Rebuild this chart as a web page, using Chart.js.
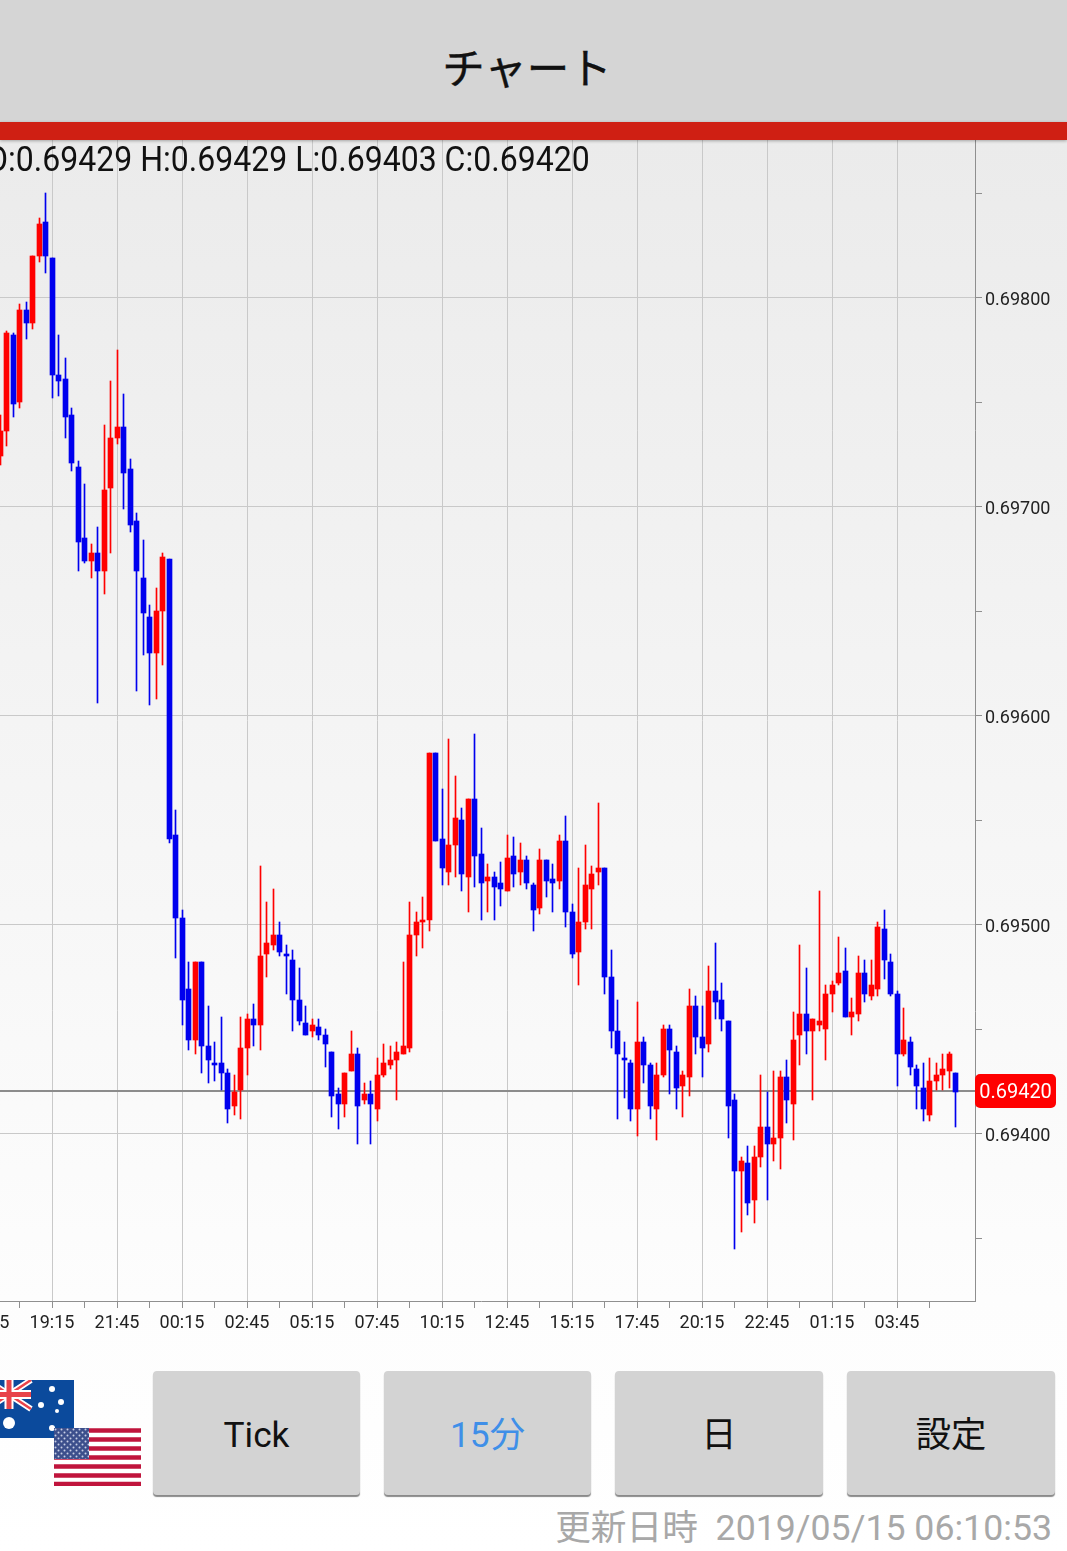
<!DOCTYPE html>
<html lang="ja">
<head>
<meta charset="utf-8">
<title>チャート</title>
<script src="https://cdn.jsdelivr.net/npm/chart.js@4/dist/chart.umd.min.js"></script>
<style>
    html, body { margin: 0; padding: 0; }
    body {
        position: relative;
        width: 1067px;
        height: 1551px;
        overflow: hidden;
        font-family: Roboto, 'Noto Sans CJK JP', sans-serif;
        background: linear-gradient(to bottom, #ebebeb 140px, #fdfdfd 1300px, #ffffff 1551px);
    }
    #chart { position: absolute; left: -20px; top: 0; }
    #header {
        position: absolute; left: 0; top: 0; width: 1067px; height: 122px;
        background: #d5d5d5; text-align: center; color: #111;
        font: 42.5px 'Noto Sans CJK JP', sans-serif; line-height: 132px; text-indent: -13px;
        -webkit-text-stroke: 0.4px #111;
    }
    #redbar {
        position: absolute; left: 0; top: 122px; width: 1067px; height: 18px;
        background: #cf1f13; box-shadow: 0 1px 3px rgba(0,0,0,0.3);
    }
    #ohlc {
        position: absolute; right: 477px; top: 140px; white-space: nowrap;
        font-size: 35px; line-height: 40px; color: #111;
        transform: scaleX(0.915); transform-origin: right center;
    }
    .btn {
        position: absolute; top: 1371px; height: 124px; background: #d3d3d3;
        border-radius: 4px; box-shadow: 0 2px 1px #8a8a8a;
        text-align: center; font-size: 35.3px; line-height: 129px; color: #111;
    }
    #updated {
        position: absolute; right: 15px; top: 1504px; white-space: pre;
        font-size: 35.7px; line-height: 48px; color: #a8a8a8;
    }
    .flag { position: absolute; }
</style>
</head>
<body>
<canvas id="chart" width="1087" height="1345"></canvas>
<div id="header">チャート</div>
<div id="redbar"></div>
<div id="ohlc">O:0.69429 H:0.69429 L:0.69403 C:0.69420</div>

<svg class="flag" style="left:-13px;top:1380px" width="87" height="58" viewBox="0 0 87 58">
    <rect width="87" height="58" fill="#0b4a9c"/>
    <path d="M0 0L44 29M44 0L0 29" stroke="#fff" stroke-width="6"/>
    <path d="M0 0L44 29M44 0L0 29" stroke="#e8434a" stroke-width="2.5"/>
    <path d="M22 0V29M0 14.5H44" stroke="#fff" stroke-width="9"/>
    <path d="M22 0V29M0 14.5H44" stroke="#e8434a" stroke-width="5"/>
    <g fill="#fff">
        <circle cx="22" cy="43" r="6"/>
        <circle cx="65" cy="9" r="3"/>
        <circle cx="54" cy="25" r="3"/>
        <circle cx="74" cy="22" r="3"/>
        <circle cx="70" cy="31" r="2"/>
        <circle cx="65" cy="48" r="3"/>
    </g>
</svg>
<svg class="flag" style="left:54px;top:1428px" width="87" height="58" viewBox="0 0 87 58">
    <defs>
        <pattern id="stars" width="6" height="6" patternUnits="userSpaceOnUse">
            <circle cx="1.5" cy="1.5" r="1" fill="#c8cfe6"/>
            <circle cx="4.5" cy="4.5" r="1" fill="#c8cfe6"/>
        </pattern>
    </defs>
    <rect width="87" height="58" fill="#fff"/>
    <path d="M0 2.5H87M0 11.5H87M0 20.5H87M0 29.5H87M0 38.5H87M0 47.5H87M0 56H87" stroke="#c0143c" stroke-width="4.5"/>
    <rect width="35" height="31" fill="#3c4f8c"/>
    <rect width="35" height="31" fill="url(#stars)"/>
</svg>

<div class="btn" style="left:153px;width:207px">Tick</div>
<div class="btn" style="left:384px;width:207px;color:#3f8fe8">15分</div>
<div class="btn" style="left:615px;width:208px">日</div>
<div class="btn" style="left:847px;width:208px">設定</div>
<div id="updated">更新日時  2019/05/15 06:10:53</div>

<script>
// 15分足 AUD/USD
const timeLabels = [
    '16:45','17:00','17:15','17:30','17:45','18:00','18:15','18:30','18:45','19:00',
    '19:15','19:30','19:45','20:00','20:15','20:30','20:45','21:00','21:15','21:30',
    '21:45','22:00','22:15','22:30','22:45','23:00','23:15','23:30','23:45','00:00',
    '00:15','00:30','00:45','01:00','01:15','01:30','01:45','02:00','02:15','02:30',
    '02:45','03:00','03:15','03:30','03:45','04:00','04:15','04:30','04:45','05:00',
    '05:15','05:30','05:45','06:00','06:15','06:30','06:45','07:00','07:15','07:30',
    '07:45','08:00','08:15','08:30','08:45','09:00','09:15','09:30','09:45','10:00',
    '10:15','10:30','10:45','11:00','11:15','11:30','11:45','12:00','12:15','12:30',
    '12:45','13:00','13:15','13:30','13:45','14:00','14:15','14:30','14:45','15:00',
    '15:15','15:30','15:45','16:00','16:15','16:30','16:45','17:00','17:15','17:30',
    '17:45','18:00','18:15','18:30','18:45','19:00','19:15','19:30','19:45','20:00',
    '20:15','20:30','20:45','21:00','21:15','21:30','21:45','22:00','22:15','22:30',
    '22:45','23:00','23:15','23:30','23:45','00:00','00:15','00:30','00:45','01:00',
    '01:15','01:30','01:45','02:00','02:15','02:30','02:45','03:00','03:15','03:30',
    '03:45','04:00','04:15','04:30','04:45','05:00','05:15','05:30','05:45','06:00',
    '06:15','06:30','06:45'
];

// 左端の2本は画面外なので null
const opens = [null, null,
    0.69724,0.69736,0.69782,0.69750,0.69794,0.69788,0.69820,0.69836,0.69819,0.69763,
    0.69761,0.69744,0.69719,0.69685,0.69674,0.69678,0.69669,0.69709,0.69733,0.69738,
    0.69718,0.69693,0.69666,0.69647,0.69630,0.69650,0.69675,0.69543,0.69503,0.69469,
    0.69445,0.69482,0.69442,0.69434,0.69434,0.69429,0.69413,0.69421,0.69441,0.69455,
    0.69452,0.69486,0.69490,0.69495,0.69486,0.69483,0.69464,0.69453,0.69449,0.69451,
    0.69447,0.69439,0.69419,0.69414,0.69430,0.69438,0.69416,0.69419,0.69412,0.69428,
    0.69433,0.69435,0.69438,0.69441,0.69495,0.69501,0.69502,0.69582,0.69541,0.69525,
    0.69538,0.69550,0.69523,0.69560,0.69534,0.69521,0.69523,0.69520,0.69516,0.69533,
    0.69525,0.69531,0.69519,0.69508,0.69531,0.69522,0.69521,0.69540,0.69506,0.69487,
    0.69501,0.69517,0.69525,0.69527,0.69475,0.69449,0.69436,0.69434,0.69412,0.69444,
    0.69433,0.69412,0.69428,0.69450,0.69439,0.69423,0.69427,0.69461,0.69446,0.69443,
    0.69468,0.69464,0.69454,0.69416,0.69382,0.69386,0.69368,0.69389,0.69403,0.69395,
    0.69398,0.69427,0.69414,0.69447,0.69457,0.69449,0.69452,0.69450,0.69467,0.69472,
    0.69478,0.69456,0.69457,0.69477,0.69466,0.69469,0.69498,0.69482,0.69467,0.69438,
    0.69444,0.69431,0.69422,0.69409,0.69425,0.69428,0.69430,0.69429
];
const highs = [null, null,
    0.69744,0.69784,0.69783,0.69797,0.69798,0.69820,0.69838,0.69850,0.69819,0.69782,
    0.69771,0.69747,0.69722,0.69711,0.69682,0.69690,0.69739,0.69760,0.69775,0.69754,
    0.69723,0.69697,0.69684,0.69653,0.69661,0.69678,0.69675,0.69555,0.69507,0.69482,
    0.69482,0.69482,0.69461,0.69444,0.69456,0.69431,0.69428,0.69456,0.69457,0.69462,
    0.69528,0.69511,0.69517,0.69501,0.69490,0.69488,0.69479,0.69461,0.69455,0.69455,
    0.69450,0.69439,0.69422,0.69429,0.69449,0.69441,0.69424,0.69425,0.69436,0.69443,
    0.69442,0.69444,0.69482,0.69511,0.69506,0.69513,0.69582,0.69582,0.69565,0.69589,
    0.69571,0.69556,0.69560,0.69591,0.69546,0.69529,0.69525,0.69530,0.69543,0.69542,
    0.69539,0.69533,0.69520,0.69536,0.69531,0.69529,0.69543,0.69552,0.69510,0.69527,
    0.69538,0.69528,0.69558,0.69527,0.69488,0.69464,0.69444,0.69435,0.69463,0.69446,
    0.69434,0.69434,0.69452,0.69452,0.69442,0.69430,0.69469,0.69466,0.69461,0.69480,
    0.69491,0.69472,0.69454,0.69419,0.69389,0.69394,0.69394,0.69428,0.69420,0.69430,
    0.69430,0.69435,0.69458,0.69490,0.69479,0.69455,0.69516,0.69471,0.69473,0.69494,
    0.69489,0.69465,0.69485,0.69483,0.69483,0.69501,0.69507,0.69486,0.69468,0.69460,
    0.69446,0.69433,0.69434,0.69436,0.69434,0.69438,0.69439,0.69429
];
const lows = [null, null,
    0.69720,0.69729,0.69743,0.69747,0.69780,0.69785,0.69817,0.69812,0.69752,0.69753,
    0.69733,0.69717,0.69669,0.69673,0.69666,0.69606,0.69658,0.69678,0.69730,0.69699,
    0.69688,0.69612,0.69629,0.69605,0.69608,0.69624,0.69539,0.69484,0.69452,0.69440,
    0.69438,0.69429,0.69424,0.69425,0.69421,0.69405,0.69409,0.69407,0.69428,0.69442,
    0.69440,0.69475,0.69488,0.69485,0.69467,0.69449,0.69452,0.69447,0.69446,0.69445,
    0.69432,0.69408,0.69402,0.69408,0.69430,0.69395,0.69414,0.69395,0.69406,0.69427,
    0.69431,0.69416,0.69438,0.69439,0.69485,0.69489,0.69497,0.69540,0.69519,0.69519,
    0.69523,0.69516,0.69506,0.69518,0.69502,0.69506,0.69502,0.69509,0.69516,0.69518,
    0.69519,0.69517,0.69497,0.69505,0.69513,0.69506,0.69517,0.69499,0.69484,0.69471,
    0.69498,0.69498,0.69519,0.69467,0.69441,0.69407,0.69417,0.69406,0.69399,0.69424,
    0.69407,0.69397,0.69427,0.69419,0.69412,0.69408,0.69418,0.69438,0.69427,0.69439,
    0.69455,0.69449,0.69398,0.69345,0.69353,0.69361,0.69357,0.69384,0.69368,0.69387,
    0.69383,0.69405,0.69397,0.69433,0.69438,0.69416,0.69449,0.69435,0.69458,0.69471,
    0.69456,0.69447,0.69454,0.69463,0.69464,0.69466,0.69474,0.69466,0.69423,0.69437,
    0.69428,0.69412,0.69406,0.69406,0.69421,0.69421,0.69422,0.69403
];
const closes = [null, null,
    0.69736,0.69783,0.69749,0.69794,0.69788,0.69820,0.69835,0.69820,0.69763,0.69760,
    0.69743,0.69721,0.69683,0.69674,0.69678,0.69669,0.69708,0.69733,0.69738,0.69716,
    0.69691,0.69669,0.69649,0.69630,0.69650,0.69676,0.69541,0.69503,0.69464,0.69445,
    0.69482,0.69442,0.69435,0.69433,0.69429,0.69412,0.69420,0.69441,0.69455,0.69452,
    0.69485,0.69491,0.69495,0.69487,0.69485,0.69464,0.69454,0.69447,0.69452,0.69447,
    0.69443,0.69418,0.69414,0.69429,0.69438,0.69413,0.69419,0.69414,0.69428,0.69434,
    0.69435,0.69439,0.69442,0.69495,0.69501,0.69502,0.69582,0.69540,0.69527,0.69538,
    0.69551,0.69524,0.69560,0.69533,0.69520,0.69523,0.69518,0.69517,0.69532,0.69524,
    0.69531,0.69520,0.69507,0.69531,0.69521,0.69520,0.69540,0.69506,0.69486,0.69501,
    0.69519,0.69524,0.69527,0.69475,0.69449,0.69438,0.69435,0.69412,0.69444,0.69433,
    0.69413,0.69428,0.69450,0.69440,0.69422,0.69428,0.69461,0.69446,0.69441,0.69468,
    0.69463,0.69455,0.69413,0.69382,0.69387,0.69367,0.69389,0.69403,0.69395,0.69398,
    0.69427,0.69416,0.69445,0.69457,0.69449,0.69455,0.69454,0.69467,0.69471,0.69477,
    0.69456,0.69458,0.69477,0.69467,0.69471,0.69499,0.69483,0.69467,0.69438,0.69445,
    0.69432,0.69423,0.69412,0.69425,0.69428,0.69431,0.69438,0.69420
];

const lastPrice = 0.69420;
const lastTickIndex = 145;

const upColor = '#ff0000';
const downColor = '#0000ee';
const gridColor = '#c9c9c9';
const axisColor = '#8f8f8f';

const barColors = opens.map((o, i) => closes[i] < o ? downColor : upColor);
const bodies = opens.map((o, i) => o === null ? null : [o, closes[i]]);
const wicks = lows.map((l, i) => l === null ? null : [l, highs[i]]);

// ローソク足をピクセルに揃える
const snapCandles = {
    id: 'snapCandles',
    afterDatasetsUpdate(chart) {
        chart.getSortedVisibleDatasetMetas().forEach(meta => {
            meta.data.forEach(bar => {
                bar.x = Math.floor(bar.x) + 0.5;
                bar.y = Math.round(bar.y);
                bar.base = Math.round(bar.base);
            });
        });
    }
};

// 現在値ライン
const priceLine = {
    id: 'priceLine',
    beforeDatasetsDraw(chart) {
        const { ctx, chartArea, scales } = chart;
        const y = Math.floor(scales.y.getPixelForValue(lastPrice));
        ctx.save();
        ctx.strokeStyle = '#8c8c8c';
        ctx.lineWidth = 2;
        ctx.beginPath();
        ctx.moveTo(chartArea.left, y);
        ctx.lineTo(chartArea.right, y);
        ctx.stroke();
        ctx.restore();
    },
    afterDraw(chart) {
        const { ctx, chartArea, scales } = chart;
        const y = Math.floor(scales.y.getPixelForValue(lastPrice));
        ctx.save();
        ctx.fillStyle = '#ff0000';
        ctx.beginPath();
        ctx.roundRect(chartArea.right, y - 17, 81, 34, 5);
        ctx.fill();
        ctx.fillStyle = '#ffffff';
        ctx.font = '20px Roboto';
        ctx.textAlign = 'center';
        ctx.textBaseline = 'middle';
        ctx.fillText(lastPrice.toFixed(5), chartArea.right + 40.5, y + 2);
        ctx.restore();
    }
};

new Chart(document.getElementById('chart'), {
    type: 'bar',
    data: {
        labels: timeLabels,
        datasets: [
            { data: wicks, backgroundColor: barColors, barThickness: 1, grouped: false, borderWidth: 0, order: 2 },
            { data: bodies, backgroundColor: barColors, barThickness: 5, grouped: false, borderWidth: 0, order: 1 }
        ]
    },
    options: {
        responsive: false,
        animation: false,
        events: [],
        layout: { padding: { left: 7, top: 140, right: 0, bottom: 0 } },
        plugins: { legend: { display: false }, tooltip: { enabled: false }, title: { display: false } },
        scales: {
            x: {
                type: 'category',
                offset: false,
                afterBuildTicks(scale) {
                    scale.ticks = scale.ticks.filter(t => t.value % 5 === 0 && t.value <= lastTickIndex);
                },
                afterFit(scale) {
                    scale.height = 44;
                    scale.paddingLeft = 0;
                    scale.paddingRight = 0;
                },
                grid: {
                    offset: false,
                    color: ctx => (ctx.tick && ctx.tick.value % 10 === 0) ? gridColor : 'rgba(0,0,0,0)',
                    tickColor: axisColor,
                    tickLength: 7,
                    lineWidth: 1
                },
                border: { display: true, color: axisColor, width: 1 },
                ticks: {
                    autoSkip: false,
                    maxRotation: 0,
                    padding: 5,
                    color: '#222222',
                    font: { family: 'Roboto', size: 18 },
                    callback: value => value % 10 === 0 ? timeLabels[value] : ''
                }
            },
            y: {
                type: 'linear',
                position: 'right',
                min: 0.693199,
                max: 0.698754,
                afterFit(scale) {
                    scale.width = 92;
                    scale.paddingTop = 0;
                    scale.paddingBottom = 0;
                },
                grid: {
                    color: ctx => (ctx.tick && Math.round(ctx.tick.value * 1e5) % 100 === 0) ? gridColor : 'rgba(0,0,0,0)',
                    tickColor: axisColor,
                    tickLength: 7,
                    lineWidth: 1
                },
                border: { display: true, color: axisColor, width: 1 },
                ticks: {
                    stepSize: 0.0005,
                    includeBounds: false,
                    padding: 3,
                    labelOffset: 3,
                    color: '#222222',
                    font: { family: 'Roboto', size: 18 },
                    callback: value => Math.round(value * 1e5) % 100 === 0 ? value.toFixed(5) : ''
                }
            }
        }
    },
    plugins: [snapCandles, priceLine]
});
</script>
</body>
</html>
